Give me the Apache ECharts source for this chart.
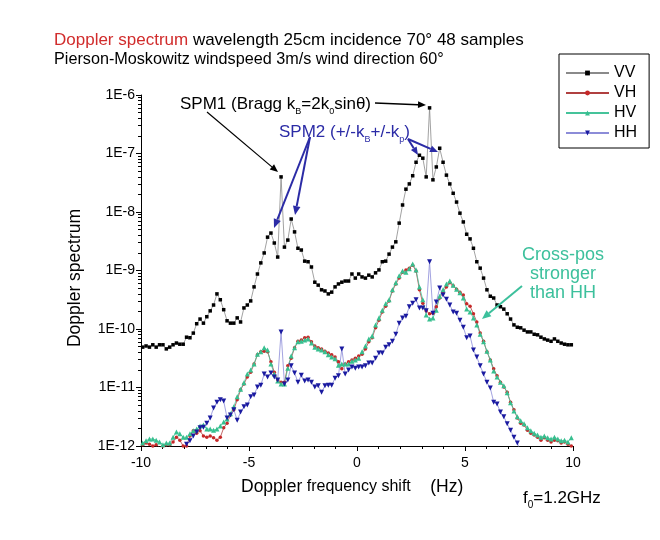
<!DOCTYPE html>
<html>
<head>
<meta charset="utf-8">
<script src="https://cdn.jsdelivr.net/npm/echarts@6/dist/echarts.min.js"></script>
<style>
html,body{margin:0;padding:0;background:#fff;}
#chart{width:660px;height:540px;}
</style>
</head>
<body>
<div id="chart"></div>
<script>
// ---- data (log10 of Doppler spectrum), 128 frequency bins from -10 Hz to 10 Hz ----
const binCount = 128;
const freqMin = -10;
const freqMax = 10;
const seriesNames = ['VV', 'VH', 'HV', 'HH'];
const xTicks = [-10, -5, 0, 5, 10];
const yDecades = [-12, -11, -10, -9, -8, -7, -6];

const vvLog10 = [
-10.31,-10.29,-10.31,-10.27,-10.31,-10.27,-10.27,-10.34,-10.31,-10.27,
-10.24,-10.26,-10.26,-10.14,-10.15,-10.07,-9.91,-9.83,-9.90,-9.79,
-9.69,-9.59,-9.40,-9.50,-9.67,-9.86,-9.90,-9.90,-9.81,-9.88,
-9.64,-9.59,-9.52,-9.28,-9.06,-8.87,-8.70,-8.43,-8.36,-8.53,
-8.77,-7.40,-8.60,-8.48,-8.12,-8.34,-8.62,-8.65,-8.84,-8.85,
-8.94,-9.20,-9.25,-9.33,-9.35,-9.40,-9.37,-9.28,-9.23,-9.20,
-9.18,-9.18,-9.06,-9.13,-9.06,-9.11,-9.13,-9.08,-9.11,-9.04,
-8.99,-8.85,-8.84,-8.72,-8.60,-8.51,-8.19,-7.88,-7.61,-7.52,
-7.38,-7.15,-7.03,-7.08,-7.40,-6.22,-7.45,-7.23,-6.91,-7.15,
-7.37,-7.52,-7.68,-7.83,-8.02,-8.17,-8.38,-8.46,-8.62,-8.85,
-8.96,-9.13,-9.33,-9.44,-9.47,-9.59,-9.62,-9.66,-9.74,-9.83,
-9.93,-9.97,-9.98,-10.02,-10.05,-10.05,-10.09,-10.10,-10.14,-10.17,
-10.19,-10.21,-10.17,-10.21,-10.24,-10.26,-10.27,-10.27
];

const vhLog10 = [
-11.98,-11.95,-11.97,-12.00,-11.98,-12.02,-12.00,-11.98,-11.98,-11.93,
-11.85,-11.90,-12.00,-12.00,-11.83,-11.74,-11.78,-11.74,-11.83,-11.85,
-11.83,-11.86,-11.90,-11.85,-11.69,-11.61,-11.47,-11.38,-11.21,-11.04,
-10.94,-10.82,-10.74,-10.60,-10.44,-10.39,-10.38,-10.39,-10.56,-10.74,
-10.87,-10.91,-10.91,-10.63,-10.50,-10.32,-10.21,-10.19,-10.15,-10.14,
-10.22,-10.29,-10.32,-10.34,-10.38,-10.41,-10.44,-10.48,-10.56,-10.68,
-10.60,-10.56,-10.53,-10.50,-10.46,-10.43,-10.34,-10.22,-10.15,-9.98,
-9.85,-9.71,-9.61,-9.52,-9.35,-9.23,-9.13,-9.03,-8.99,-8.96,
-8.91,-9.01,-9.33,-9.56,-9.69,-9.74,-9.73,-9.62,-9.47,-9.37,
-9.28,-9.21,-9.26,-9.32,-9.37,-9.42,-9.57,-9.61,-9.74,-9.88,
-10.07,-10.21,-10.39,-10.53,-10.68,-10.80,-10.91,-10.99,-11.08,-11.25,
-11.38,-11.52,-11.61,-11.64,-11.73,-11.78,-11.81,-11.85,-11.90,-11.86,
-11.90,-11.93,-11.90,-11.91,-11.95,-11.93,-11.97,-12.00
];

const hvLog10 = [
-11.95,-11.91,-11.88,-11.88,-11.90,-11.93,-11.98,-11.95,-11.95,-11.85,
-11.76,-11.79,-11.85,-11.85,-11.79,-11.74,-11.71,-11.66,-11.64,-11.71,
-11.71,-11.73,-11.71,-11.66,-11.59,-11.54,-11.45,-11.33,-11.16,-11.03,
-10.92,-10.77,-10.70,-10.60,-10.43,-10.39,-10.32,-10.36,-10.60,-10.77,
-10.89,-10.94,-10.94,-10.67,-10.46,-10.32,-10.22,-10.21,-10.19,-10.17,
-10.24,-10.31,-10.34,-10.36,-10.39,-10.44,-10.48,-10.51,-10.62,-10.60,
-10.60,-10.60,-10.55,-10.53,-10.50,-10.39,-10.29,-10.17,-10.12,-9.93,
-9.81,-9.68,-9.57,-9.50,-9.33,-9.21,-9.09,-9.01,-9.03,-8.97,
-8.89,-8.99,-9.28,-9.50,-9.76,-9.83,-9.81,-9.68,-9.44,-9.33,
-9.23,-9.18,-9.25,-9.32,-9.38,-9.47,-9.66,-9.71,-9.81,-9.93,
-10.09,-10.22,-10.38,-10.53,-10.72,-10.82,-10.91,-10.97,-11.09,-11.26,
-11.40,-11.50,-11.57,-11.62,-11.69,-11.74,-11.78,-11.81,-11.85,-11.83,
-11.86,-11.88,-11.85,-11.88,-11.91,-11.90,-11.93,-11.86
];

const hhLog10 = [
null,null,null,null,null,null,null,null,null,null,
null,null,-12.07,-11.97,-11.91,-11.83,-11.76,-11.69,-11.68,-11.61,
-11.52,-11.35,-11.25,-11.21,-11.23,-11.52,-11.47,-11.38,-11.56,-11.42,
-11.33,-11.30,-11.16,-11.13,-10.99,-10.96,-10.77,-10.82,-10.75,-10.82,
-10.87,-10.05,-10.94,-10.87,-10.63,-10.75,-10.91,-10.79,-10.89,-10.87,
-10.91,-10.99,-10.97,-11.08,-10.97,-10.96,-10.96,-10.84,-10.80,-10.34,
-10.77,-10.70,-10.65,-10.67,-10.65,-10.65,-10.63,-10.58,-10.58,-10.50,
-10.41,-10.41,-10.31,-10.27,-10.21,-10.09,-9.90,-9.81,-9.78,-9.62,
-9.56,-9.50,-9.64,-9.64,-9.69,-8.85,-9.73,-9.54,-9.30,-9.42,
-9.49,-9.59,-9.71,-9.73,-9.85,-9.97,-10.15,-10.12,-10.36,-10.48,
-10.63,-10.77,-10.91,-11.01,-11.25,-11.28,-11.42,-11.50,-11.62,-11.73,
-11.85,-11.95,-12.10,null,null,null,null,null,null,null,
null,null,null,null,null,null,null,null
];

// ---- build ----
const FONT = '"Liberation Sans", Arial, sans-serif';
const binWidth = (freqMax - freqMin) / binCount;
function toData(arr) {
  return arr.map((v, i) => [freqMin + (i + 0.5) * binWidth, v == null ? '-' : Math.pow(10, v)]);
}
const minorTickValues = [];
yDecades.slice(0, -1).forEach(e => { for (let k = 2; k <= 9; k++) minorTickValues.push(k * Math.pow(10, e)); });

function arrow(x1, y1, x2, y2, color, w, head) {
  const hl = head || 9, hw = hl * 0.42;
  const a = Math.atan2(y2 - y1, x2 - x1);
  const bx = x2 - hl * Math.cos(a), by = y2 - hl * Math.sin(a);
  const px = -Math.sin(a) * hw, py = Math.cos(a) * hw;
  return [
    {type: 'line', silent: true, z: 50, shape: {x1: x1, y1: y1, x2: bx, y2: by}, style: {stroke: color, lineWidth: w}},
    {type: 'polygon', silent: true, z: 50, shape: {points: [[x2, y2], [bx + px, by + py], [bx - px, by - py]]}, style: {fill: color}}
  ];
}
function txt(x, y, text, opts, rotation) {
  const st = Object.assign({text: text, fill: '#000', font: '16px ' + FONT, align: 'left', textAlign: 'left', verticalAlign: 'middle', textVerticalAlign: 'middle'}, opts || {});
  const el = {type: 'text', x: x, y: y, z: 60, silent: true, style: st};
  if (rotation) el.rotation = rotation;
  return el;
}
const BLUE = '#2b2ba6', TEAL = '#3cc09c', RED = '#d12c2c';
function sub(color, size) { return {fontSize: size || 9, fontFamily: FONT, lineHeight: 9, verticalAlign: 'bottom', fill: color, color: color}; }
function main(color, size) { return {fontSize: size || 17, fontFamily: FONT, lineHeight: 24, fill: color, color: color}; }

const graphics = [
  txt(54, 40, '{r|Doppler spectrum}{k| wavelength 25cm incidence 70° 48 samples}', {rich: {r: {fontSize: 17, fontFamily: FONT, fill: RED, color: RED}, k: {fontSize: 17, fontFamily: FONT, fill: '#000'}}}),
  txt(54, 60, 'Pierson-Moskowitz windspeed 3m/s wind direction 60°', {font: '16.2px ' + FONT}),
  txt(180, 104, '{a|SPM1 (Bragg k}{s|B}{a|=2k}{s|0}{a|sin\u03B8)}', {rich: {a: main('#000'), s: sub('#000')}}),
  txt(279, 132, '{a|SPM2 (+/-k}{s|B}{a|+/-k}{s|p}{a|)}', {rich: {a: main(BLUE), s: sub(BLUE)}}),
  txt(563, 274, 'Cross-pos\nstronger\nthan HH', {font: '18px ' + FONT, fill: TEAL, align: 'center', textAlign: 'center', lineHeight: 19}),
  txt(75, 278, 'Doppler spectrum', {font: '17.5px ' + FONT, align: 'center', textAlign: 'center'}, Math.PI / 2),
  txt(241, 487, '{d|Doppler}{f| frequency shift}{h|    (Hz)}', {rich: {d: {fontSize: 17.5, fontFamily: FONT, fill: '#000'}, f: {fontSize: 16, fontFamily: FONT, fill: '#000'}, h: {fontSize: 17.5, fontFamily: FONT, fill: '#000'}}}),
  txt(523, 498, '{a|f}{s|0}{a|=1.2GHz}', {rich: {a: main('#000'), s: sub('#000', 10)}})
];
[].concat(
  arrow(375, 103, 426, 105, '#000', 1.5, 8),
  arrow(207, 112, 278, 172, '#000', 1.2, 8),
  arrow(310, 137, 274, 228, BLUE, 2, 9),
  arrow(310, 137, 295, 215, BLUE, 2, 9),
  arrow(408, 139, 418, 155, BLUE, 2, 8),
  arrow(408, 139, 438, 152, BLUE, 2, 8),
  arrow(522, 286, 482, 319, TEAL, 2, 9)
).forEach(g => graphics.push(g));

const common = {type: 'line', animation: false, clip: true, connectNulls: false, emphasis: {disabled: true}, yAxisIndex: 0};
const seriesStyles = {
  VV: {symbol: 'rect', symbolSize: 3.5, itemStyle: {color: '#000'}, lineStyle: {color: '#8a8a8a', width: 0.8}},
  VH: {symbol: 'circle', symbolSize: 3.5, itemStyle: {color: '#c62828'}, lineStyle: {color: '#b04040', width: 0.8}},
  HV: {symbol: 'triangle', symbolSize: 5, itemStyle: {color: '#37bf8f'}, lineStyle: {color: '#45c39a', width: 0.8}},
  HH: {symbol: 'triangle', symbolRotate: 180, symbolSize: 5, itemStyle: {color: '#1a1aa0'}, lineStyle: {color: '#8c8cd8', width: 0.8}}
};
const seriesData = {VV: vvLog10, VH: vhLog10, HV: hvLog10, HH: hhLog10};

const chart = echarts.init(document.getElementById('chart'), null, {renderer: 'canvas'});
chart.setOption({
  animation: false,
  backgroundColor: '#fff',
  textStyle: {fontFamily: FONT},
  grid: {left: 141, top: 95, right: 87, bottom: 94, outerBoundsMode: 'none', containLabel: false},
  legend: {
    left: 559, top: 54, orient: 'vertical',
    data: seriesNames,
    borderColor: '#000', borderWidth: 1, padding: [11, 12, 7, 6],
    itemGap: 4, itemWidth: 43, itemHeight: 6,
    textStyle: {fontSize: 16, fontFamily: FONT, color: '#000', lineHeight: 16},
    selectedMode: false
  },
  xAxis: {
    type: 'value', min: freqMin, max: freqMax, interval: 5,
    axisLine: {onZero: false, lineStyle: {color: '#000', width: 1}},
    axisTick: {inside: false, length: 5, lineStyle: {color: '#000'}},
    minorTick: {show: true, splitNumber: 5, length: 3, lineStyle: {color: '#000'}},
    axisLabel: {fontSize: 14, color: '#000', margin: 10, fontFamily: FONT, customValues: xTicks},
    splitLine: {show: false}
  },
  yAxis: [
    {
      type: 'log', logBase: 10, min: Math.pow(10, yDecades[0]), max: Math.pow(10, yDecades[yDecades.length - 1]), interval: 1,
      position: 'left', offset: 0,
      axisLine: {show: true, onZero: false, lineStyle: {color: '#000', width: 1}},
      axisTick: {show: true, inside: false, length: 5, lineStyle: {color: '#000'}},
      axisLabel: {fontSize: 14, color: '#000', margin: 6, fontFamily: FONT,
        formatter: v => '1E' + Math.round(Math.log10(v))},
      splitLine: {show: false}
    },
    {
      type: 'log', logBase: 10, position: 'left', offset: 0, min: Math.pow(10, yDecades[0]), max: Math.pow(10, yDecades[yDecades.length - 1]),
      axisLine: {show: false, onZero: false},
      axisTick: {show: true, inside: false, length: 3, lineStyle: {color: '#000'}, customValues: minorTickValues},
      axisLabel: {show: false},
      splitLine: {show: false}
    }
  ],
  series: seriesNames.map(n => Object.assign({}, common, seriesStyles[n], {name: n, data: toData(seriesData[n])})),
  graphic: graphics
});
</script>
</body>
</html>
